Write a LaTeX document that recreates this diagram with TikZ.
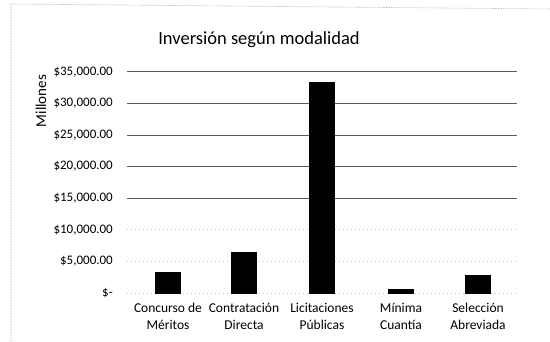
\documentclass[tikz,border=0pt]{standalone}
\usepackage{fontspec}
\setmainfont{Carlito}
\definecolor{gridgray}{HTML}{5a5a5a}
\definecolor{framegray}{HTML}{9a9a9a}

\begin{document}
\begin{tikzpicture}[x=1pt, y=-1pt,
every node/.style = {inner sep=0pt, text=black},
gridline/.style = {line width=0.7pt, color=gridgray},
faintline/.style = {line width=0.6pt, color=gray!45, dash pattern=on 1pt off 3pt},
bar/.style = {fill=black, draw=none},
ticklabel/.style = {anchor=east, font=\fontsize{13}{15}\selectfont},
catlabel/.style = {anchor=north, align=center, font=\fontsize{13.5}{17}\selectfont},
chartframe/.style = {line width=0.6pt, color=framegray, densely dotted}
]
\useasboundingbox (0,0) rectangle (550,342);
\draw[chartframe] (550,9) -- (11,4) -- (11,342);

\node[font=\fontsize{18.5}{22}\selectfont] (title) at (259,40) {Inversión según modalidad};
\node[rotate=90, font=\fontsize{15}{17}\selectfont] (unidad) at (41,101) {Millones};

% value axis: 5000 per step, 6.32pt per thousand
\foreach \v in {0,5,10} {
  \pgfmathsetmacro\gy{293-6.32*\v}
  \draw[faintline] (127,\gy) -- (517,\gy);
}
\foreach \v in {15,20,25,30,35} {
  \pgfmathsetmacro\gy{293-6.32*\v}
  \draw[gridline] (127,\gy) -- (517,\gy);
}
\foreach \v/\lab in {0/{\$-}, 5/{\$5,000.00}, 10/{\$10,000.00}, 15/{\$15,000.00},
                     20/{\$20,000.00}, 25/{\$25,000.00}, 30/{\$30,000.00}, 35/{\$35,000.00}} {
  \pgfmathsetmacro\gy{293-6.32*\v}
  \node[ticklabel] (tick\v) at (113,\gy) {\lab};
}

% bars and categories
\foreach \nm/\cx/\val/\lab in {conc/168/3.3/{Concurso de\\Méritos},
                               cont/244/6.5/{Contratación\\Directa},
                               lici/322/33.4/{Licitaciones\\Públicas},
                               mini/401/0.65/{Mínima\\Cuantía},
                               sele/478/2.85/{Selección\\Abreviada}} {
  \fill[bar] (\cx-13,294) rectangle (\cx+13,293-6.32*\val);
  \node[catlabel] (\nm) at (\cx,303) {\lab};
}

\end{tikzpicture}
\end{document}
